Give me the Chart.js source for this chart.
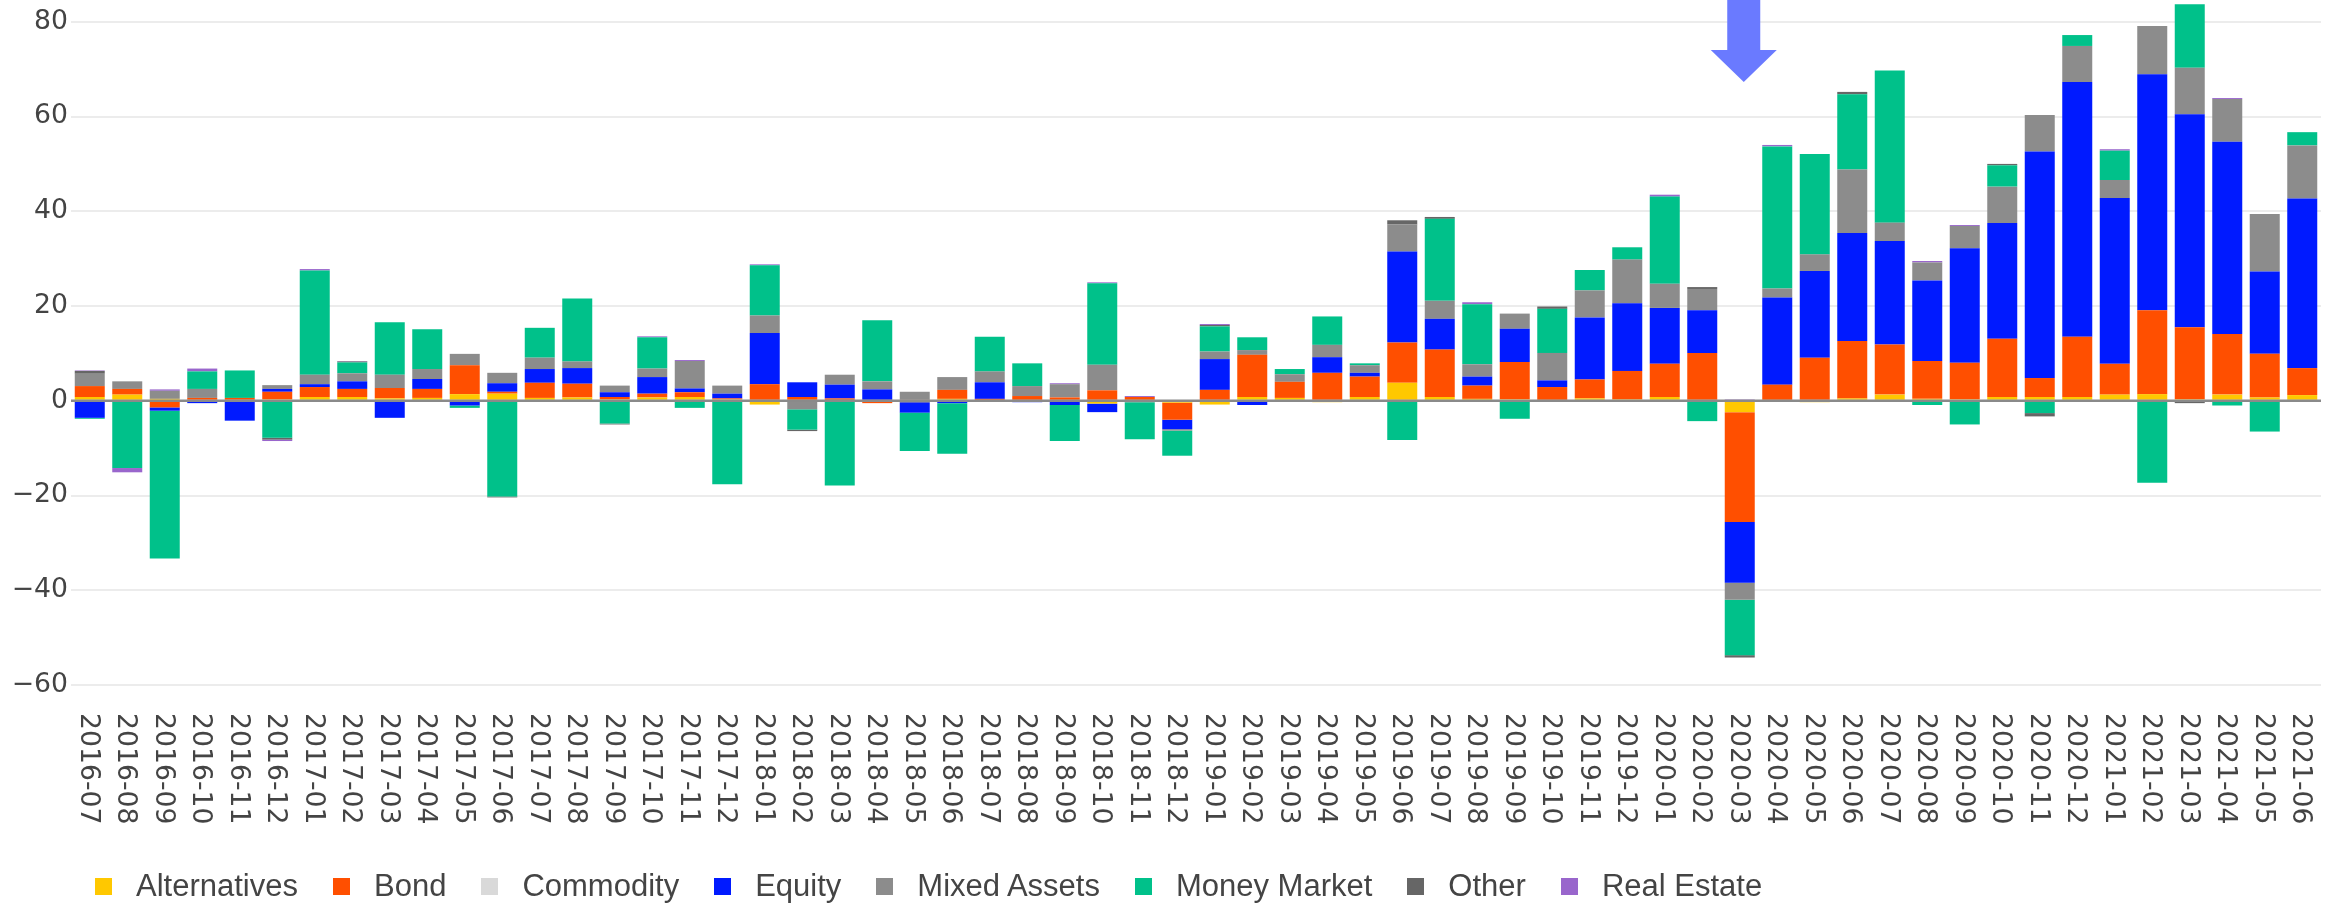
<!DOCTYPE html>
<html>
<head>
<meta charset="utf-8">
<script src="https://cdn.jsdelivr.net/npm/chart.js@4.4.0/dist/chart.umd.min.js"></script>
<style>
    body { margin: 0; background: #fff; }
    #wrap { position: relative; width: 2338px; height: 904px; }
    #legend { position: absolute; left: 95px; top: 869px; height: 34px; display: flex; align-items: center;
        font-family: "Liberation Sans", Arial, sans-serif; font-size: 31px; color: #444; white-space: nowrap; }
    #legend .item { display: flex; align-items: center; margin-right: 35px; }
    #legend .box { width: 17px; height: 17px; margin-right: 24px; }
</style>
</head>
<body>
<div id="wrap">
    <canvas id="flows" width="2338" height="904"></canvas>
    <div id="legend"></div>
</div>
<script>
var months = ['2016-07', '2016-08', '2016-09', '2016-10', '2016-11', '2016-12',
    '2017-01', '2017-02', '2017-03', '2017-04', '2017-05', '2017-06', '2017-07', '2017-08', '2017-09', '2017-10', '2017-11', '2017-12',
    '2018-01', '2018-02', '2018-03', '2018-04', '2018-05', '2018-06', '2018-07', '2018-08', '2018-09', '2018-10', '2018-11', '2018-12',
    '2019-01', '2019-02', '2019-03', '2019-04', '2019-05', '2019-06', '2019-07', '2019-08', '2019-09', '2019-10', '2019-11', '2019-12',
    '2020-01', '2020-02', '2020-03', '2020-04', '2020-05', '2020-06', '2020-07', '2020-08', '2020-09', '2020-10', '2020-11', '2020-12',
    '2021-01', '2021-02', '2021-03', '2021-04', '2021-05', '2021-06'];

var alternatives = [0.8, 1.3, 0.4, 0, 0, 0.3,
    0.8, 0.8, 0.5, 0.6, 1.4, 1.5, 0.6, 0.7, 0.3, 0.7, 0.8, 0.3,
    -0.8, 0, 0.2, 0.2, -0.3, 0.4, 0.2, 0.2, 0.2, -0.6, 0.2, -0.4,
    -0.8, 0.8, 0.6, -0.3, 0.8, 3.8, 0.8, 0.4, 0.3, 0.2, 0.5, 0.3,
    0.8, 0.2, -2.4, 0.2, -0.3, 0.5, 1.3, 0.4, 0.3, 0.8, 0.8, 0.8,
    1.3, 1.4, 0.3, 1.3, 0.7, 1.2];
var bond = [2.3, 1.2, -1.4, 0.6, 0.6, 1.6,
    2.1, 1.7, 2.2, 1.9, 6.1, 0.4, 3.2, 2.9, 0.5, 0.8, 1.0, 0.2,
    3.5, 0.8, 0.3, -0.5, 0.2, 1.9, 0.2, 0.8, 0.5, 2.2, 0.6, -3.6,
    2.3, 8.9, 3.4, 5.9, 4.3, 8.5, 10.0, 2.8, 7.9, 2.7, 4.0, 6.0,
    7.0, 9.9, -23.2, 3.2, 9.1, 12.1, 10.6, 8.0, 7.7, 12.3, 4.0, 12.7,
    6.5, 17.7, 15.2, 12.8, 9.2, 5.7];
var commodity = [0, 0, 0, 0, 0, 0,
    0, 0, 0, 0, 0, 0, 0, 0, 0, 0, 0, 0,
    0, 0, 0, 0, 0, 0, 0, 0, 0, 0, 0, 0,
    0, 0, 0, 0, 0, 0, 0, 0, 0, 0, 0, 0,
    0, 0, 0, 0, 0, 0, 0, 0, 0, 0, 0, 0,
    0, 0, 0, 0, 0, 0];
var equity = [-3.6, 0, -0.7, -0.5, -4.2, 0.6,
    0.6, 1.6, -3.6, 2.1, -1.0, 1.8, 2.9, 3.3, 1.0, 3.5, 0.8, 1.0,
    10.8, 3.1, 2.9, 2.2, -2.2, -0.5, 3.5, -0.3, -0.9, -1.8, 0, -2.0,
    6.5, -0.9, 0, 3.3, 0.8, 19.2, 6.5, 1.9, 7.0, 1.4, 13.1, 14.3,
    11.8, 9.0, -12.8, 18.4, 18.3, 22.8, 21.8, 17.0, 24.2, 24.4, 47.8, 53.8,
    35.0, 49.8, 45.0, 40.6, 17.4, 35.8];
var mixedAssets = [2.6, 1.6, 1.7, 1.9, 0, 0.8,
    2.0, 1.7, 2.8, 2.1, 2.4, 2.2, 2.4, 1.4, 1.4, 1.8, 5.8, 1.7,
    3.7, -1.8, 2.1, 1.7, 1.7, 2.7, 2.3, 2.1, 2.8, 5.4, -0.3, -0.3,
    1.6, 1.0, 1.6, 2.6, 1.6, 5.7, 3.8, 2.6, 3.2, 5.8, 5.7, 9.2,
    5.1, 4.5, -3.6, 1.9, 3.5, 13.4, 3.9, 3.8, 4.7, 7.7, 7.7, 7.6,
    3.8, 10.2, 9.8, 9.0, 12.1, 11.2];
var moneyMarket = [-0.2, -14.2, -31.2, 3.7, 5.8, -7.8,
    22.0, 2.3, 11.1, 8.4, -0.5, -20.2, 6.3, 13.3, -4.8, 6.6, -1.5, -17.6,
    10.6, -4.3, -17.9, 12.9, -8.1, -10.7, 7.3, 4.8, -7.6, 17.2, -7.8, -5.3,
    5.3, 2.7, 1.1, 6.0, 0.4, -8.3, 17.3, 12.7, -3.8, 9.3, 4.3, 2.6,
    18.4, -4.3, -11.7, 30.0, 21.2, 15.9, 32.1, -0.9, -5.0, 4.5, -2.6, 2.3,
    6.2, -17.3, 13.4, -1.0, -6.5, 2.8];
var other = [0.6, 0, 0, 0, 0, -0.4,
    0, 0.2, 0, 0, 0, -0.2, 0, 0, -0.2, 0, 0, 0,
    0, -0.3, 0, 0, 0, 0, 0, 0, 0, 0, 0, 0,
    0.3, 0, 0, 0, 0, 0.9, 0.4, 0, 0, 0.5, 0, 0,
    0, 0.4, -0.5, 0, 0, 0.5, 0, 0, 0, 0.3, -0.7, 0,
    0, 0, -0.5, 0, 0, 0];
var realEstate = [0.1, -0.9, 0.3, 0.6, 0, -0.3,
    0.3, 0.1, 0, 0, 0, 0, 0, 0, 0, 0.2, 0.2, 0,
    0.2, 0, 0, 0, 0, 0, 0, 0, 0.2, 0.2, 0.2, 0,
    0.2, 0, 0, 0, 0, 0, 0, 0.4, 0, 0, 0, 0,
    0.4, 0, 0.3, 0.3, 0, 0, 0, 0.3, 0.2, 0, 0, 0,
    0.3, 0, 0, 0.2, 0, 0];

var seriesNames = ['Alternatives', 'Bond', 'Commodity', 'Equity', 'Mixed Assets', 'Money Market', 'Other', 'Real Estate'];
var seriesColors = ['#FFC800', '#FF4F00', '#D9D9D9', '#001AFF', '#8C8C8C', '#00C18A', '#666666', '#9966CC'];
var seriesData = [alternatives, bond, commodity, equity, mixedAssets, moneyMarket, other, realEstate];

var markedMonth = '2020-03';
var tickFont = '26.7px "DejaVu Sans", Verdana, sans-serif';

//zero line over bars, rotated month labels, arrow marker
var extras = {
    id: 'extras',
    afterDatasetsDraw(chart) {
        var ctx = chart.ctx, y = chart.scales.y, area = chart.chartArea;
        var y0 = y.getPixelForValue(0);
        ctx.save();
        ctx.strokeStyle = '#8a8a8a';
        ctx.lineWidth = 2.5;
        ctx.beginPath();
        ctx.moveTo(area.left, y0);
        ctx.lineTo(area.right, y0);
        ctx.stroke();
        ctx.restore();
    },
    afterDraw(chart) {
        var ctx = chart.ctx, x = chart.scales.x, area = chart.chartArea;
        ctx.save();
        ctx.font = tickFont;
        ctx.fillStyle = '#444';
        ctx.textAlign = 'left';
        ctx.textBaseline = 'middle';
        months.forEach(function (m, i) {
            ctx.save();
            ctx.translate(x.getPixelForValue(i) - 2, area.bottom + 19);
            ctx.rotate(Math.PI / 2);
            ctx.fillText(m, 0, 0);
            ctx.restore();
        });
        // arrow pointing at the marked month
        var cx = x.getPixelForValue(months.indexOf(markedMonth)) + 4;
        var top = area.top;
        ctx.fillStyle = '#6A7AFF';
        ctx.beginPath();
        ctx.moveTo(cx - 16.5, top);
        ctx.lineTo(cx + 16.5, top);
        ctx.lineTo(cx + 16.5, top + 50);
        ctx.lineTo(cx + 33, top + 50);
        ctx.lineTo(cx, top + 82);
        ctx.lineTo(cx - 33, top + 50);
        ctx.lineTo(cx - 16.5, top + 50);
        ctx.closePath();
        ctx.fill();
        ctx.restore();
    }
};

var myChart = new Chart(
    document.getElementById('flows'),
    config = {
        type: 'bar',
        data: {
            labels: months,
            datasets: seriesNames.map(function (name, i) {
                return {
                    label: name,
                    data: seriesData[i],
                    backgroundColor: seriesColors[i],
                    borderWidth: 0,
                    barPercentage: 0.8,
                    categoryPercentage: 1.0
                };
            })
        },
        options: {
            responsive: false,
            devicePixelRatio: 1,
            animation: false,
            layout: {
                padding: { left: 0, top: 0, right: 17, bottom: 210 }
            },
            plugins: {
                legend: { display: false },
                tooltip: { enabled: false }
            },
            scales: {
                x: {
                    stacked: true,
                    grid: { display: false, drawTicks: false },
                    border: { display: false },
                    ticks: { display: false },
                    afterFit: function (scale) {
                        scale.height = 0;
                        scale.paddingLeft = 0;
                        scale.paddingRight = 0;
                    }
                },
                y: {
                    stacked: true,
                    min: -61.9,
                    max: 84.6,
                    border: { display: false },
                    grid: { color: '#ececec', lineWidth: 2, drawTicks: false },
                    ticks: {
                        stepSize: 20,
                        includeBounds: false,
                        padding: 3,
                        color: '#444',
                        font: { family: '"DejaVu Sans", Verdana, sans-serif', size: 26.7 },
                        callback: function (v) {
                            return v < 0 ? '\u2212' + Math.abs(v) : String(v);
                        }
                    },
                    afterFit: function (scale) {
                        scale.width = 71;
                        scale.paddingTop = 0;
                        scale.paddingBottom = 0;
                    }
                }
            }
        },
        plugins: [extras]
    });

//Legend
var legendBox = document.getElementById('legend');
seriesNames.forEach(function (name, i) {
    var item = document.createElement('div');
    item.className = 'item';
    var box = document.createElement('span');
    box.className = 'box';
    box.style.background = seriesColors[i];
    var text = document.createElement('span');
    text.textContent = name;
    item.appendChild(box);
    item.appendChild(text);
    legendBox.appendChild(item);
});
</script>
</body>
</html>
